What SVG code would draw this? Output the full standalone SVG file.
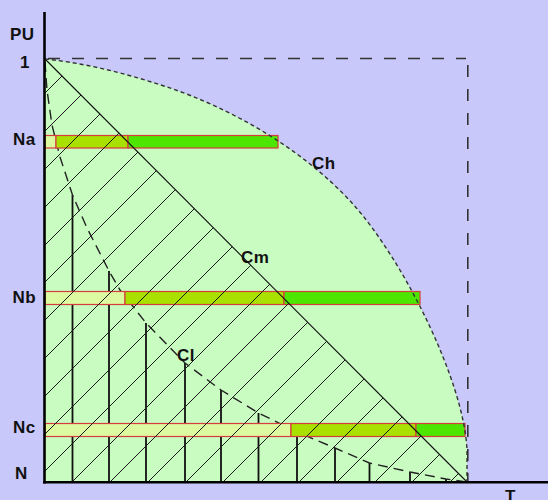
<svg xmlns="http://www.w3.org/2000/svg" width="548" height="500" viewBox="0 0 548 500">
  <style>
    .lbl { font-family: "Liberation Sans", Arial, sans-serif; font-weight: bold; font-size: 17px; fill: #111; letter-spacing: 0.5px; }
    .bar { stroke: #d83c3c; stroke-width: 1.2; }
    .light { fill: #dcfaa0; }
    .mid { fill: #a8e000; }
    .green { fill: #4ce600; }
    .hatch { stroke: #1a1a1a; stroke-width: 1; fill: none; }
    .vert { stroke: #111; stroke-width: 1.8; fill: none; }
    .cl { stroke: #222; stroke-width: 1.4; fill: none; stroke-dasharray: 10 6; }
    .ch { stroke: #333; stroke-width: 1.4; fill: none; stroke-dasharray: 4 3; }
    .box { stroke: #333; stroke-width: 1.6; fill: none; stroke-dasharray: 12 12; }
    .axis { stroke: #000; stroke-width: 2.6; fill: none; }
  </style>
  <defs>
    <clipPath id="tri">
      <polygon points="45,59 45,482 467,482"/>
    </clipPath>
  </defs>

  <rect width="548" height="500" fill="#c8c8fa"/>

  <g id="region-Ch">
    <path d="M45,59 C85,63 127,73.7 167,87 C229,107.5 302,148 352,203 C402,258 464,380 467,450 L467,482 L45,482 Z" fill="#c8fcc0"/>
  </g>

  <g id="verticals">
    <path class="vert" d="M72.5,482V195 M109,482V271 M146,482V323 M185,482V363 M221,482V390 M258.5,482V413 M297,482V432 M335,482V448 M369.5,482V463 M410,482V472 M446,482V479"/>
  </g>

  <g id="curve-Cl">
    <polyline class="cl" points="45,62 47,90 52,125 60,157 72.5,195 87,228 109,271 120,290 146,323 185,363 221,390 258.5,413 297,432 335,448 369.5,463 410,472 446,479 467,482"/>
  </g>

  <g id="bar-Na">
    <rect class="bar light" x="45" y="135.5" width="11" height="12.5"/>
    <rect class="bar mid" x="56" y="135.5" width="72" height="12.5"/>
    <rect class="bar green" x="128" y="135.5" width="150" height="12.5"/>
  </g>
  <g id="bar-Nb">
    <rect class="bar light" x="45" y="291.5" width="80" height="13"/>
    <rect class="bar mid" x="125" y="291.5" width="159" height="13"/>
    <rect class="bar green" x="284" y="291.5" width="136" height="13"/>
  </g>
  <g id="bar-Nc">
    <rect class="bar light" x="45" y="423.5" width="246" height="13"/>
    <rect class="bar mid" x="291" y="423.5" width="125" height="13"/>
    <rect class="bar green" x="416" y="423.5" width="49" height="13"/>
  </g>

  <g id="hatch" clip-path="url(#tri)">
    <path class="hatch" d="M0,138L138,0 M0,176L176,0 M0,214L214,0 M0,252L252,0 M0,290L290,0 M0,327L327,0 M0,365L365,0 M0,403L403,0 M0,441L441,0 M0,479L479,0 M0,516L516,0 M0,554L554,0 M0,592L592,0 M0,630L630,0 M0,668L668,0 M0,705L705,0 M0,743L743,0 M0,781L781,0 M0,819L819,0 M0,857L857,0 M0,894L894,0 M0,932L932,0"/>
  </g>

  <g id="connectors">
    <line id="line-Cm" x1="45" y1="59" x2="467" y2="482" stroke="#111" stroke-width="1.1"/>
    <path id="curve-Ch" class="ch" d="M45,59 C85,63 127,73.7 167,87 C229,107.5 302,148 352,203 C402,258 464,380 467,450 L467,482"/>
    <line class="box" x1="48" y1="58.5" x2="466" y2="58.5"/>
    <line class="box" x1="467.8" y1="65" x2="467.8" y2="482"/>
  </g>

  <g id="axes">
    <line class="axis" x1="44.5" y1="12" x2="44.5" y2="483.5"/>
    <line class="axis" x1="43" y1="482.2" x2="548" y2="482.2"/>
  </g>

  <g id="labels">
    <text class="lbl" x="10" y="40">PU</text>
    <text class="lbl" x="20" y="68">1</text>
    <text class="lbl" x="13" y="145">Na</text>
    <text class="lbl" x="12.5" y="302.5">Nb</text>
    <text class="lbl" x="13" y="433">Nc</text>
    <text class="lbl" x="15" y="479">N</text>
    <text class="lbl" x="505" y="502">T</text>
    <text class="lbl" x="312" y="169">Ch</text>
    <text class="lbl" x="241" y="263">Cm</text>
    <text class="lbl" x="177" y="360.5">Cl</text>
  </g>
</svg>
